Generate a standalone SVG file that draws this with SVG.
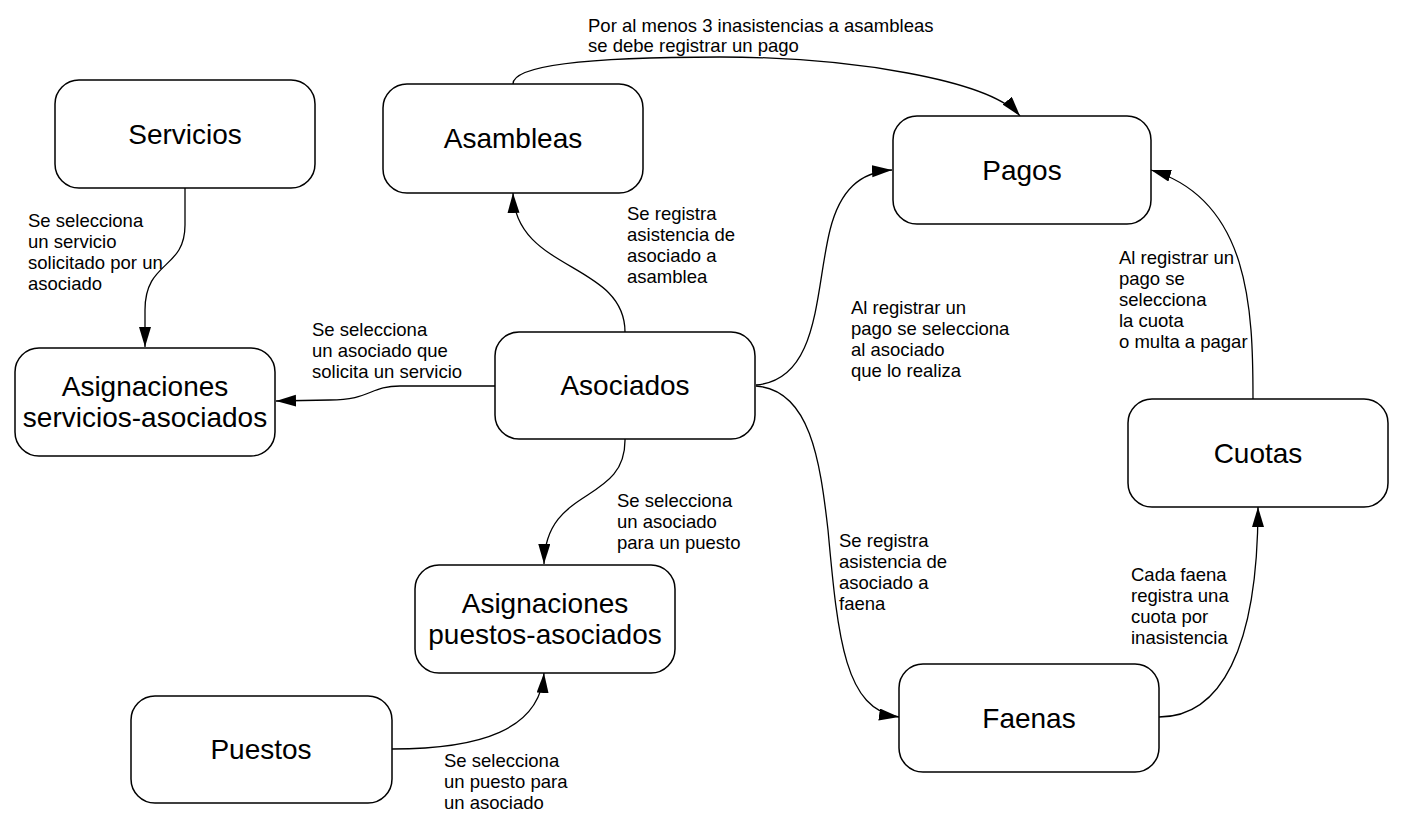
<svg xmlns="http://www.w3.org/2000/svg" width="1407" height="830" viewBox="0 0 1407 830">
<style>
.box{fill:#fff;stroke:#000;stroke-width:1.5}
.nt{font-family:"Liberation Sans",Arial,sans-serif;font-size:28px;fill:#000;text-anchor:middle}
.lb{font-family:"Liberation Sans",Arial,sans-serif;font-size:18.5px;fill:#000}
.c{fill:none;stroke:#000;stroke-width:1.3}
</style>
<defs>
<marker id="ar" markerUnits="userSpaceOnUse" markerWidth="22" markerHeight="14" refX="20" refY="6" orient="auto">
<path d="M0,0 L20,6 L0,12 z" fill="#000"/>
</marker>
</defs>
<rect width="1407" height="830" fill="#fff"/>
<g id="connectors">
<path class="c" marker-end="url(#ar)" d="M513,84 C513,62 620,57 720,57 C850,57 990,80 1020,116"/>
<path class="c" marker-end="url(#ar)" d="M625,332 C625,262 515,272 513,193"/>
<path class="c" marker-end="url(#ar)" d="M495,386 L400,386 C370,386 370,400 330,400 L276,401"/>
<path class="c" marker-end="url(#ar)" d="M185,188 L185,225 C185,270 145,260 145,310 L145,347"/>
<path class="c" marker-end="url(#ar)" d="M625,439 C626,505 545,485 544,564"/>
<path class="c" marker-end="url(#ar)" d="M392,749 C480,749 540,730 544,673"/>
<path class="c" marker-end="url(#ar)" d="M756,385 C820,380 815,290 830,230 C840,190 860,172 892,170"/>
<path class="c" marker-end="url(#ar)" d="M1253,399 C1253,310 1250,200 1151,170"/>
<path class="c" marker-end="url(#ar)" d="M756,386 C810,390 820,460 828,530 C838,640 845,710 899,717"/>
<path class="c" marker-end="url(#ar)" d="M1159,717 C1220,717 1258,650 1258,507"/>
</g>
<g id="labels">
<text class="lb" x="588" y="32">Por al menos 3 inasistencias a asambleas</text>
<text class="lb" x="588" y="52">se debe registrar un pago</text>
<text class="lb"><tspan x="627" y="220">Se registra</tspan><tspan x="627" y="241">asistencia de</tspan><tspan x="627" y="262">asociado a</tspan><tspan x="627" y="283">asamblea</tspan></text>
<text class="lb"><tspan x="28" y="227">Se selecciona</tspan><tspan x="28" y="248">un servicio</tspan><tspan x="28" y="269">solicitado por un</tspan><tspan x="28" y="290">asociado</tspan></text>
<text class="lb"><tspan x="312" y="336">Se selecciona</tspan><tspan x="312" y="357">un asociado que</tspan><tspan x="312" y="378">solicita un servicio</tspan></text>
<text class="lb"><tspan x="617" y="507">Se selecciona</tspan><tspan x="617" y="528">un asociado</tspan><tspan x="617" y="549">para un puesto</tspan></text>
<text class="lb"><tspan x="444" y="767">Se selecciona</tspan><tspan x="444" y="788">un puesto para</tspan><tspan x="444" y="809">un asociado</tspan></text>
<text class="lb"><tspan x="851" y="314">Al registrar un</tspan><tspan x="851" y="335">pago se selecciona</tspan><tspan x="851" y="356">al asociado</tspan><tspan x="851" y="377">que lo realiza</tspan></text>
<text class="lb"><tspan x="1119" y="264">Al registrar un</tspan><tspan x="1119" y="285">pago se</tspan><tspan x="1119" y="306">selecciona</tspan><tspan x="1119" y="327">la cuota</tspan><tspan x="1119" y="348">o multa a pagar</tspan></text>
<text class="lb"><tspan x="839" y="547">Se registra</tspan><tspan x="839" y="568">asistencia de</tspan><tspan x="839" y="589">asociado a</tspan><tspan x="839" y="610">faena</tspan></text>
<text class="lb"><tspan x="1131" y="581">Cada faena</tspan><tspan x="1131" y="602">registra una</tspan><tspan x="1131" y="623">cuota por</tspan><tspan x="1131" y="644">inasistencia</tspan></text>
</g>
<g id="servicios"><rect class="box" x="55" y="80" width="260" height="108" rx="24"/><text class="nt" x="185" y="144">Servicios</text></g>
<g id="asambleas"><rect class="box" x="383" y="84" width="260" height="109" rx="24"/><text class="nt" x="513" y="148">Asambleas</text></g>
<g id="pagos"><rect class="box" x="893" y="116" width="258" height="108" rx="24"/><text class="nt" x="1022" y="180">Pagos</text></g>
<g id="asig-servicios"><rect class="box" x="15" y="348" width="260" height="108" rx="24"/><text class="nt" x="145" y="396">Asignaciones</text><text class="nt" x="145" y="427">servicios-asociados</text></g>
<g id="asociados"><rect class="box" x="495" y="332" width="260" height="107" rx="24"/><text class="nt" x="625" y="395">Asociados</text></g>
<g id="cuotas"><rect class="box" x="1128" y="399" width="260" height="108" rx="24"/><text class="nt" x="1258" y="463">Cuotas</text></g>
<g id="asig-puestos"><rect class="box" x="415" y="565" width="260" height="108" rx="24"/><text class="nt" x="545" y="613">Asignaciones</text><text class="nt" x="545" y="644">puestos-asociados</text></g>
<g id="puestos"><rect class="box" x="131" y="696" width="261" height="107" rx="24"/><text class="nt" x="261" y="759">Puestos</text></g>
<g id="faenas"><rect class="box" x="899" y="664" width="260" height="108" rx="24"/><text class="nt" x="1029" y="728">Faenas</text></g>
</svg>
